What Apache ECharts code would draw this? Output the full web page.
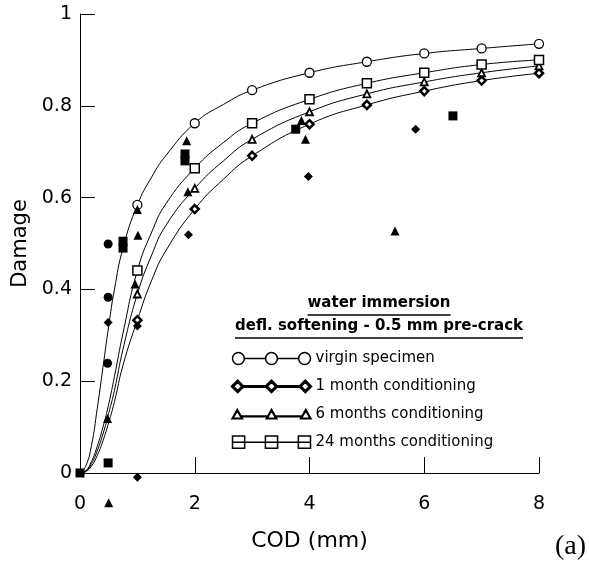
<!DOCTYPE html>
<html>
<head>
<meta charset="utf-8">
<script src="https://cdn.jsdelivr.net/npm/echarts@6/dist/echarts.min.js"></script>
<style>
html, body { margin: 0; padding: 0; background: #fff; }
#chart { width: 589px; height: 563px; }
</style>
</head>
<body>
<div id="chart"></div>
<script>
// fitted damage curves
const curveX = [0, 0.1, 0.2, 0.3, 0.4, 0.5, 0.6, 0.75, 1, 1.25, 1.5, 2, 2.5, 3, 4, 5, 6, 7, 8]
const virginFit = [0, 0.015, 0.06, 0.14, 0.23, 0.32, 0.40, 0.49, 0.584, 0.645, 0.692, 0.762, 0.803, 0.834, 0.872, 0.896, 0.914, 0.925, 0.935]
const m1Fit = [0, 0.003, 0.015, 0.038, 0.07, 0.11, 0.155, 0.235, 0.333, 0.42, 0.485, 0.575, 0.64, 0.691, 0.760, 0.802, 0.832, 0.855, 0.871]
const m6Fit = [0, 0.004, 0.02, 0.048, 0.085, 0.13, 0.18, 0.27, 0.39, 0.475, 0.54, 0.62, 0.68, 0.727, 0.787, 0.826, 0.852, 0.872, 0.887]
const m24Fit = [0, 0.005, 0.025, 0.058, 0.10, 0.15, 0.21, 0.305, 0.441, 0.525, 0.587, 0.664, 0.72, 0.762, 0.814, 0.849, 0.872, 0.89, 0.90]

// open markers sitting on the curves
const markX = [1, 2, 3, 4, 5, 6, 7, 8]
const virginMark = [0.584, 0.762, 0.834, 0.872, 0.896, 0.914, 0.925, 0.935]
const m1Mark = [0.333, 0.575, 0.691, 0.760, 0.802, 0.832, 0.855, 0.871]
const m6Mark = [0.39, 0.62, 0.727, 0.787, 0.826, 0.852, 0.872, 0.887]
const m24Mark = [0.441, 0.664, 0.762, 0.814, 0.849, 0.872, 0.89, 0.90]

// test results (filled markers) [COD, damage]
const virginTest = [[0.49, 0.499], [0.49, 0.383], [0.48, 0.239]]
const m1Test = [[0.49, 0.328], [1.0, -0.009], [1.0, 0.32], [1.89, 0.519], [3.98, 0.646], [5.85, 0.749]]
const m6Test = [[0.48, 0.119], [0.5, -0.065], [0.96, 0.412], [1.01, 0.518], [1.0, 0.574], [1.88, 0.613], [1.86, 0.724], [3.86, 0.768], [3.93, 0.727], [5.49, 0.527]]
const m24Test = [[0, 0], [0.49, 0.022], [0.75, 0.49], [0.75, 0.505], [1.83, 0.68], [1.83, 0.695], [3.76, 0.749], [6.5, 0.778]]

const names = ['virgin specimen', '1 month conditioning', '6 months conditioning', '24 months conditioning']
const xTicks = { min: 0, max: 8, interval: 2 }
const yTicks = { min: 0, max: 1, interval: 0.2 }

const FONT = 'DejaVu Sans'
const pair = (xs, ys) => xs.map((x, i) => [x, ys[i]])

// legend icons: three markers joined by a line
const icons = {
  circle: 'path://M0.7,6.5A5.8,5.8 0 1 1 12.3,6.5A5.8,5.8 0 1 1 0.7,6.5Z M12.3,6.5L33.2,6.5 M33.2,6.5A5.8,5.8 0 1 1 44.8,6.5A5.8,5.8 0 1 1 33.2,6.5Z M44.8,6.5L65.7,6.5 M65.7,6.5A5.8,5.8 0 1 1 77.3,6.5A5.8,5.8 0 1 1 65.7,6.5Z',
  diamond: 'path://M1.5,6.5L6.5,1.5L11.5,6.5L6.5,11.5Z M11.5,6.5L34,6.5 M34,6.5L39,1.5L44,6.5L39,11.5Z M44,6.5L66.5,6.5 M66.5,6.5L71.5,1.5L76.5,6.5L71.5,11.5Z',
  triangle: 'path://M2,11L6.5,3L11,11Z M9.9,9L35.6,9 M34.5,11L39,3L43.5,11Z M42.4,9L68.1,9 M67,11L71.5,3L76,11Z',
  rect: 'path://M0.5,0.5L12.5,0.5L12.5,12.5L0.5,12.5Z M33,0.5L45,0.5L45,12.5L33,12.5Z M65.5,0.5L77.5,0.5L77.5,12.5L65.5,12.5Z M0.5,6.5L77.5,6.5'
}

function fitLine(name, ys) {
  return {
    name: name + ' fit', type: 'line', data: pair(curveX, ys), smooth: 0.5,
    showSymbol: false, silent: true, z: 2,
    lineStyle: { color: '#000', width: 1 }
  }
}
function openMarks(name, ys, symbol, size, bw) {
  return {
    name, type: 'scatter', data: pair(markX, ys), symbol, symbolSize: size, z: 4,
    itemStyle: { color: '#fff', borderColor: '#000', borderWidth: bw, opacity: 1 }
  }
}
function testMarks(name, pts, symbol, size) {
  return {
    name: name + ' test', type: 'scatter', data: pts, symbol, symbolSize: size, clip: false, z: 5,
    itemStyle: { color: '#000', opacity: 1 }
  }
}

const chart = echarts.init(document.getElementById('chart'), null, { renderer: 'canvas' })

// measure text to draw underlines under the legend headings
const ctx = document.createElement('canvas').getContext('2d')
const headFont = 'bold 15px "' + FONT + '"'
ctx.font = headFont
const head1 = 'water immersion', head2 = 'defl. softening - 0.5 mm pre-crack'
const w1 = ctx.measureText(head1).width, w2 = ctx.measureText(head2).width
const hx = 379

chart.setOption({
  backgroundColor: '#fff',
  animation: false,
  grid: { left: 80, top: 14, width: 459, height: 459, outerBoundsMode: 'none', containLabel: false },
  xAxis: {
    type: 'value', ...xTicks,
    name: 'COD (mm)', nameLocation: 'middle', nameGap: 57,
    nameTextStyle: { fontFamily: FONT, fontSize: 22, color: '#000' },
    axisLine: { show: true, lineStyle: { color: '#000', width: 1 } },
    axisTick: { show: true, inside: true, length: 16, lineStyle: { color: '#000' } },
    axisLabel: { fontFamily: FONT, fontSize: 19, color: '#000', margin: 22 },
    splitLine: { show: false }
  },
  yAxis: {
    type: 'value', ...yTicks,
    name: 'Damage', nameLocation: 'middle', nameGap: 47,
    nameTextStyle: { fontFamily: FONT, fontSize: 21, color: '#000' },
    axisLine: { show: true, lineStyle: { color: '#000', width: 1 } },
    axisTick: { show: true, inside: true, length: 15, lineStyle: { color: '#000' } },
    axisLabel: { fontFamily: FONT, fontSize: 19, color: '#000', margin: 8 },
    splitLine: { show: false }
  },
  legend: {
    orient: 'vertical', left: 226, top: 346,
    itemWidth: 78, itemHeight: 13, itemGap: 12.9,
    selectedMode: false,
    textStyle: { fontFamily: FONT, fontSize: 15, color: '#000', lineHeight: 13 },
    data: [
      { name: names[0], icon: icons.circle, itemStyle: { color: '#fff', borderColor: '#000', borderWidth: 1.5 } },
      { name: names[1], icon: icons.diamond, itemStyle: { color: '#fff', borderColor: '#000', borderWidth: 3 } },
      { name: names[2], icon: icons.triangle, itemStyle: { color: '#fff', borderColor: '#000', borderWidth: 2.2 } },
      { name: names[3], icon: icons.rect, itemStyle: { color: '#fff', borderColor: '#000', borderWidth: 1.5 } }
    ]
  },
  graphic: [
    { type: 'text', left: hx - w1 / 2, top: 296, style: { text: head1, font: headFont, fill: '#000' } },
    { type: 'line', shape: { x1: hx - w1 / 2, y1: 315, x2: hx + w1 / 2, y2: 315 }, style: { stroke: '#000', lineWidth: 1.5 } },
    { type: 'text', left: hx - w2 / 2, top: 319, style: { text: head2, font: headFont, fill: '#000' } },
    { type: 'line', shape: { x1: hx - w2 / 2, y1: 338, x2: hx + w2 / 2, y2: 338 }, style: { stroke: '#000', lineWidth: 1.5 } },
    { type: 'text', left: 555, top: 533, style: { text: '(a)', font: '28px "Liberation Serif"', fill: '#000' } }
  ],
  series: [
    fitLine(names[0], virginFit),
    fitLine(names[1], m1Fit),
    fitLine(names[2], m6Fit),
    fitLine(names[3], m24Fit),
    openMarks(names[0], virginMark, 'circle', 9, 1.3),
    openMarks(names[1], m1Mark, 'diamond', 8, 2.5),
    openMarks(names[2], m6Mark, 'triangle', 7, 1.8),
    openMarks(names[3], m24Mark, 'rect', 9, 1.5),
    testMarks(names[0], virginTest, 'circle', 9),
    testMarks(names[1], m1Test, 'diamond', 9),
    testMarks(names[2], m6Test, 'triangle', 9),
    testMarks(names[3], m24Test, 'rect', 9)
  ]
})
</script>
</body>
</html>
